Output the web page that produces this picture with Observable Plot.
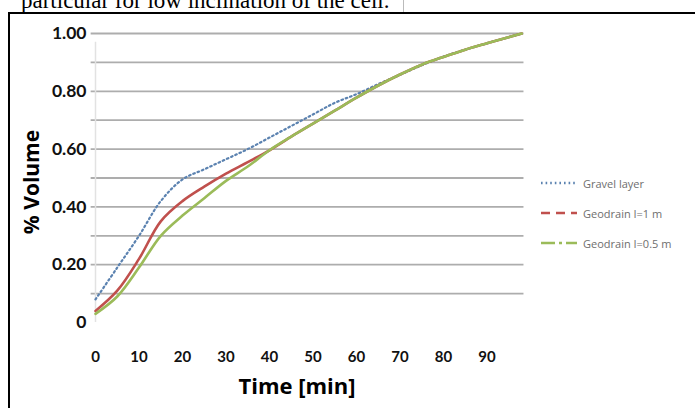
<!DOCTYPE html>
<html>
<head>
<meta charset="utf-8">
<script src="https://cdn.jsdelivr.net/npm/d3@7"></script>
<script src="https://cdn.jsdelivr.net/npm/@observablehq/plot@0.6"></script>
<style>
  html, body { margin: 0; padding: 0; background: #fff; }
  #wrap { position: relative; width: 695px; height: 408px; overflow: hidden; background: #fff; }
  #toptext { position: absolute; left: 21px; top: -11px; font-family: "Liberation Serif", "Times New Roman", serif; font-size: 23px; line-height: 24px; white-space: nowrap; color: #000; }
  #pageline { position: absolute; left: 403px; top: 0; width: 1px; height: 13px; background: #bbb; }
  #frame { position: absolute; left: 8px; top: 12px; width: 720px; height: 420px; border-top: 2.5px solid #000; border-left: 2.5px solid #000; pointer-events: none; }
  #chart { position: absolute; left: 0; top: 0; }
  .chart g[aria-label="y-axis tick label"] text { font-family: Lato, "Open Sans", sans-serif; font-weight: 700; font-size: 17.5px; fill: #111; }
  .chart g[aria-label="x-axis tick label"] text { font-family: Lato, "Open Sans", sans-serif; font-weight: 700; font-size: 15px; fill: #111; }
  #ytitle { position: absolute; left: 31px; top: 182px; transform: translate(-50%, -50%) rotate(-90deg); font-family: "Open Sans", sans-serif; font-weight: 700; font-size: 21px; white-space: nowrap; color: #000; }
  #xtitle { position: absolute; left: 297px; top: 385px; transform: translate(-50%, -50%); font-family: "Open Sans", sans-serif; font-weight: 700; font-size: 22px; white-space: nowrap; color: #000; }
  #legend { position: absolute; left: 539px; top: 168px; font-family: "Open Sans", sans-serif; font-size: 11px; color: #6e6e6e; }
  .lg { display: flex; align-items: center; height: 30px; }
  .lg svg { margin-right: 4px; }
</style>
</head>
<body>
<div id="wrap">
  <div id="toptext">particular for low inclination of the cell.</div>
  <div id="pageline"></div>
  <div id="chart"></div>
  <div id="ytitle">% Volume</div>
  <div id="xtitle">Time [min]</div>
  <div id="legend"></div>
  <div id="frame"></div>
</div>
<script>
// ---- data ----
const seriesNames = ["Gravel layer", "Geodrain I=1 m", "Geodrain I=0.5 m"];
const seriesColors = ["#5b82b0", "#c0504d", "#9bbb59"];

const gravelTime = [0, 5, 10, 15, 20, 25, 30, 35, 40, 45, 50, 55, 60, 65, 70, 75, 80, 85, 90, 98];
const gravelVol  = [0.08, 0.19, 0.30, 0.42, 0.495, 0.53, 0.565, 0.60, 0.64, 0.68, 0.72, 0.76, 0.79, 0.825, 0.857, 0.89, 0.92, 0.944, 0.966, 1.00];

const geo1Time = [0, 5, 10, 15, 20, 25, 30, 35, 40, 45, 50, 55, 60, 65, 70, 75, 80, 85, 90, 98];
const geo1Vol  = [0.04, 0.11, 0.22, 0.35, 0.42, 0.47, 0.515, 0.555, 0.596, 0.643, 0.688, 0.733, 0.778, 0.82, 0.858, 0.892, 0.919, 0.944, 0.966, 1.00];

const geo05Time = [0, 5, 10, 15, 20, 25, 30, 35, 40, 45, 50, 55, 60, 65, 70, 75, 80, 85, 90, 98];
const geo05Vol  = [0.03, 0.09, 0.19, 0.30, 0.37, 0.43, 0.49, 0.54, 0.596, 0.643, 0.688, 0.733, 0.778, 0.82, 0.858, 0.892, 0.919, 0.944, 0.966, 1.00];

const xTicks = [0, 10, 20, 30, 40, 50, 60, 70, 80, 90];
const yTicks = [0, 0.2, 0.4, 0.6, 0.8, 1.0];
const yTickLabels = ["0", "0.20", "0.40", "0.60", "0.80", "1.00"];
const gridValues = [0.1, 0.2, 0.3, 0.4, 0.5, 0.6, 0.7, 0.8, 0.9, 1.0];

// ---- build tables ----
const gravel = gravelTime.map((t, i) => ({t, v: gravelVol[i]}));
const geo1 = geo1Time.map((t, i) => ({t, v: geo1Vol[i]}));
const geo05 = geo05Time.map((t, i) => ({t, v: geo05Vol[i]}));

const chart = Plot.plot({
  className: "chart",
  width: 695,
  height: 408,
  marginLeft: 95,
  marginRight: 165,
  marginTop: 33,
  marginBottom: 86,
  style: {background: "transparent"},
  x: {domain: [0, 100], label: null},
  y: {domain: [0, 1], label: null},
  marks: [
    Plot.ruleY(gridValues, {x1: -1, x2: 98.5, stroke: "#adadad", strokeWidth: 1.8}),
    Plot.ruleX([0], {y1: 0, y2: 0.97, stroke: "#e2e2e2", strokeWidth: 1.5}),
    Plot.line(gravel, {x: "t", y: "v", stroke: seriesColors[0], strokeWidth: 2.2, strokeDasharray: "1.6,3", curve: "catmull-rom"}),
    Plot.line(geo1, {x: "t", y: "v", stroke: seriesColors[1], strokeWidth: 2.6, curve: "catmull-rom"}),
    Plot.line(geo05, {x: "t", y: "v", stroke: seriesColors[2], strokeWidth: 2.6, curve: "catmull-rom"}),
    Plot.axisY({ticks: yTicks, tickSize: 0, tickPadding: 9, tickFormat: (d) => yTickLabels[yTicks.indexOf(d)] ?? ""}),
    Plot.axisX({ticks: xTicks, tickSize: 0, tickPadding: 29, tickFormat: (d) => String(d)})
  ]
});
document.getElementById("chart").appendChild(chart);

// ---- legend ----
const dashes = ["1.6,3", "9,6", "14,4,3,4"];
const legend = document.getElementById("legend");
seriesNames.forEach((name, i) => {
  const row = document.createElement("div");
  row.className = "lg";
  row.innerHTML = `<svg width="40" height="8"><line x1="2" y1="4" x2="38" y2="4" stroke="${seriesColors[i]}" stroke-width="2.4" stroke-dasharray="${dashes[i]}"/></svg><span>${name}</span>`;
  legend.appendChild(row);
});
</script>
</body>
</html>
